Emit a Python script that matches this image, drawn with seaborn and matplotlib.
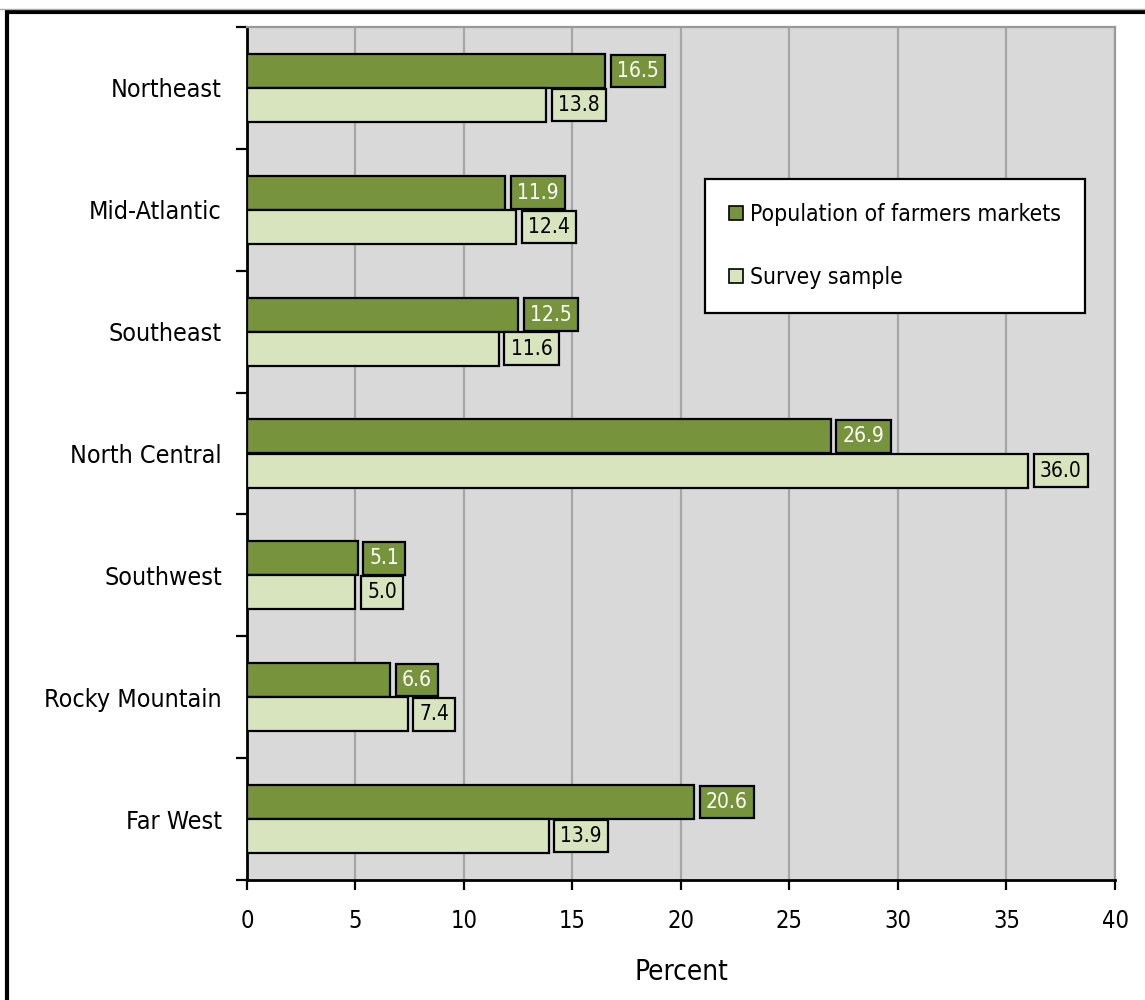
import numpy as np
import pandas as pd
import seaborn as sns
import matplotlib.pyplot as plt
from matplotlib.patches import Rectangle

# Regional distribution: population of farmers markets vs survey sample
regions = ["Northeast", "Mid-Atlantic", "Southeast", "North Central",
           "Southwest", "Rocky Mountain", "Far West"]
population = [16.5, 11.9, 12.5, 26.9, 5.1, 6.6, 20.6]
survey = [13.8, 12.4, 11.6, 36.0, 5.0, 7.4, 13.9]
series = ["Population of farmers markets", "Survey sample"]
x_ticks = [0, 5, 10, 15, 20, 25, 30, 35, 40]

df = pd.DataFrame({
    "region": regions * 2,
    "percent": population + survey,
    "series": [series[0]] * len(regions) + [series[1]] * len(regions),
})

sns.set_style("white")
plt.rcParams["font.family"] = ["DejaVu Sans"]
plt.rcParams["font.stretch"] = "condensed"
plt.rcParams["text.color"] = "black"
plt.rcParams["axes.labelcolor"] = "black"
plt.rcParams["xtick.color"] = "black"
plt.rcParams["ytick.color"] = "black"

dark = "#77933C"
light = "#D7E4BD"
palette = {series[0]: dark, series[1]: light}

fig = plt.figure(figsize=(11.45, 10), dpi=100)
ax = fig.add_axes([0.2157, 0.12, 0.7581, 0.853])
ax.set_facecolor("#D9D9D9")

sns.barplot(data=df, y="region", x="percent", hue="series", order=regions,
            hue_order=series, palette=palette, orient="h", width=0.56,
            edgecolor="black", linewidth=1.6, saturation=1, ax=ax, zorder=3)

# value boxes next to the bars
for cont, fc, tc in zip(ax.containers, [dark, light], ["white", "black"]):
    ax.bar_label(cont, fmt="%.1f", padding=8.5, fontsize=15, color=tc,
                 bbox=dict(boxstyle="square,pad=0.3", fc=fc, ec="black", lw=1.6),
                 zorder=4)

ax.set_xlim(0, 40)
ax.set_ylim(len(regions) - 0.5, -0.5)
ax.set_xticks(x_ticks)
ax.set_xticklabels([str(t) for t in x_ticks], fontsize=17)
ax.set_yticks(range(len(regions)))
ax.set_yticklabels(regions, fontsize=18)
ax.set_yticks(np.arange(-0.5, len(regions)), minor=True)
ax.tick_params(axis="y", which="major", length=0, pad=18)
ax.tick_params(axis="y", which="minor", length=8, width=1.6, direction="out",
               color="black", left=True)
ax.tick_params(axis="x", which="major", length=7, width=1.6, direction="out",
               color="black", bottom=True, pad=14)

ax.grid(axis="x", color="#A6A6A6", linewidth=1.6, zorder=1)
ax.set_axisbelow(True)
ax.set_ylabel("")
ax.set_xlabel("Percent", fontsize=20, labelpad=18)

for side in ["left", "bottom"]:
    ax.spines[side].set_color("black")
    ax.spines[side].set_linewidth(2)
for side in ["top", "right"]:
    ax.spines[side].set_color("#999999")
    ax.spines[side].set_linewidth(1.6)

leg = ax.legend(loc="upper left", bbox_to_anchor=(0.528, 0.822), fontsize=16.5,
                frameon=True, fancybox=False, edgecolor="black", framealpha=1,
                handlelength=0.6, handleheight=0.6, handletextpad=0.3,
                labelspacing=1.75, borderpad=1.05, borderaxespad=0)
leg.get_frame().set_linewidth(1.6)
for h in leg.legend_handles:
    h.set_edgecolor("black")
    h.set_linewidth(1.2)

# outer frame around the figure, cut off at right and bottom
fig.patches.append(Rectangle((0.006, -0.05), 1.1, 1.038,
                             transform=fig.transFigure, fill=False,
                             edgecolor="black", linewidth=3, clip_on=False))
fig.add_artist(plt.Line2D([0, 1], [0.991, 0.991], transform=fig.transFigure,
                          color="#AAAAAA", linewidth=1))

fig.savefig("out.png", dpi=100)
